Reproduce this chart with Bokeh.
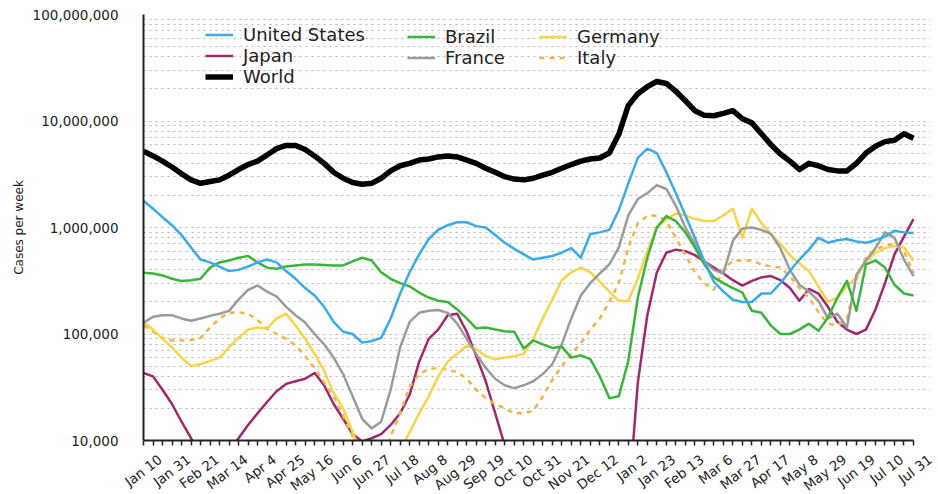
from bokeh.plotting import figure
from bokeh.models import (Range1d, FixedTicker, NumeralTickFormatter, Legend, LegendItem,
                          LinearAxis)
from bokeh.embed import file_html
from bokeh.resources import INLINE

# ---- data (weekly cases, weeks starting 2021-01-10) ----
week_index = list(range(82))
tick_labels = ["Jan 10", "Jan 31", "Feb 21", "Mar 14", "Apr 4", "Apr 25", "May 16",
               "Jun 6", "Jun 27", "Jul 18", "Aug 8", "Aug 29", "Sep 19", "Oct 10",
               "Oct 31", "Nov 21", "Dec 12", "Jan 2", "Jan 23", "Feb 13", "Mar 6",
               "Mar 27", "Apr 17", "May 8", "May 29", "Jun 19", "Jul 10", "Jul 31"]
tick_positions = week_index[::3]

world_m = [5.2, 4.7, 4.2, 3.7, 3.2, 2.8, 2.6, 2.7, 2.8, 3.1,
           3.5, 3.9, 4.2, 4.8, 5.5, 5.9, 5.9, 5.4, 4.7, 4.0,
           3.3, 2.9, 2.65, 2.55, 2.6, 2.9, 3.4, 3.8, 4.0, 4.3,
           4.4, 4.6, 4.7, 4.6, 4.3, 4.0, 3.6, 3.3, 3.0, 2.85,
           2.8, 2.9, 3.1, 3.3, 3.6, 3.9, 4.2, 4.4, 4.5, 5.0,
           7.5, 14, 18, 21, 23.5, 22.5, 19, 15.5, 12.5, 11.3,
           11.2, 11.8, 12.5, 10.5, 9.6, 7.6, 6.0, 4.9, 4.2, 3.5,
           4.0, 3.8, 3.5, 3.4, 3.4, 4.0, 5.0, 5.8, 6.4, 6.6,
           7.6, 6.9]
us_k = [1780, 1500, 1250, 1050, 850, 650, 500, 470, 430, 390,
        400, 430, 470, 500, 470, 390, 330, 270, 230, 180,
        130, 105, 100, 83, 86, 92, 140, 240, 380, 560,
        780, 950, 1050, 1120, 1120, 1030, 1000, 850, 720, 630,
        560, 500, 520, 540, 580, 640, 520, 870, 900, 950,
        1450, 2600, 4500, 5500, 5000, 3300, 2100, 1300, 800, 480,
        310, 250, 210, 200, 200, 240, 240, 300, 390, 500,
        620, 800, 720, 760, 780, 740, 720, 760, 820, 930,
        900, 890]
japan_k = [43, 40, 30, 22, 15, 10.5, 7, 6, 6.5, 8,
           10.5, 14, 18, 23, 29, 34, 36, 38, 43, 33,
           22, 16, 11.5, 9.8, 10.5, 11.5, 14, 18, 27, 55,
           90, 110, 150, 155, 105, 62, 36, 18, 9, 6,
           4, 3, 2.2, 1.6, 1.2, 1.0, 0.9, 0.9, 1.0, 1.2,
           1.5, 2.5, 35, 150, 380, 580, 620, 600, 550, 480,
           420, 370, 320, 285, 315, 340, 350, 320, 270, 205,
           265, 240, 180, 130, 110, 100, 110, 170, 300, 560,
           820, 1200]
brazil_k = [375, 370, 355, 330, 315, 320, 330, 420, 470, 490,
            520, 540, 470, 420, 410, 430, 440, 450, 450, 445,
            440, 440, 480, 520, 490, 380, 330, 300, 280, 245,
            220, 205, 200, 170, 140, 113, 115, 110, 106, 105,
            73, 87, 80, 74, 76, 60, 63, 58, 40, 25,
            26, 56, 220, 520, 1000, 1280, 1150, 900, 650, 450,
            340, 300, 270, 245, 165, 158, 120, 100, 100, 110,
            125, 107, 142, 220, 315, 165, 450, 490, 420, 290,
            240, 230]
france_k = [128, 145, 150, 150, 140, 133, 140, 148, 155, 165,
            210, 260, 285, 250, 225, 180, 150, 128, 100, 80,
            60, 42, 26, 16, 13, 15, 30, 75, 130, 158,
            165, 168, 158, 125, 90, 65, 48, 38, 33, 31,
            33, 36, 42, 52, 80, 140, 230, 300, 370, 450,
            650, 1300, 1850, 2100, 2500, 2300, 1600, 1000, 700, 480,
            400, 370, 750, 980, 1000, 950, 870, 640, 400, 290,
            250, 205, 140, 155, 115, 360, 490, 640, 900, 800,
            500, 350]
germany_k = [128, 110, 90, 75, 60, 50, 52, 56, 60, 75,
             92, 110, 115, 112, 140, 155, 120, 90, 65, 45,
             28, 20, 12, 7, 5, 5, 6, 8, 12, 18,
             26, 40, 55, 65, 78, 72, 62, 58, 60, 62,
             65, 90, 140, 210, 320, 380, 420, 380, 310, 250,
             205, 205, 330, 600, 1000, 1200, 1350, 1300, 1200, 1150,
             1150, 1300, 1500, 800, 1500, 1100, 870, 700, 550, 460,
             390, 280, 200, 220, 280, 340, 480, 580, 640, 670,
             650, 490]
italy_k = [120, 105, 92, 87, 87, 88, 92, 115, 140, 158,
           160, 155, 135, 112, 100, 90, 78, 62, 48, 35,
           26, 17, 11, 7, 6, 6, 11, 18, 32, 42,
           47, 48, 46, 44, 38, 30, 25, 22, 20, 18,
           18, 19, 26, 37, 50, 65, 82, 110, 140, 200,
           300, 650, 1100, 1280, 1300, 1150, 800, 550, 380, 300,
           260, 400, 490, 490, 490, 450, 430, 420, 350, 270,
           220, 160, 125, 120, 140, 330, 520, 620, 680, 700,
           600, 370]

major_y = [1e4, 1e5, 1e6, 1e7, 1e8]
minor_y = [m * d for d in [1e4, 1e5, 1e6, 1e7] for m in range(2, 10)]

FONT = "DejaVu Sans"
TXT = "#222222"

# geometry: 81 week-steps span 770 px; the frame is widened by SHIFT weeks on the
# right so the (right-anchored) rotated date labels can be moved to sit centred
# under their ticks through a shifted label axis.
X0, X1 = week_index[0], week_index[-1]
DATA_W = 770
SHIFT = 1.75
px_per_week = DATA_W / (X1 - X0)
FRAME_W = int(round(DATA_W + SHIFT * px_per_week))

p = figure(output_backend="svg", toolbar_location=None,
           y_axis_type="log", frame_width=FRAME_W, frame_height=426,
           min_border_left=143, min_border_top=14, min_border_right=938 - 143 - FRAME_W,
           min_border_bottom=54,
           x_range=Range1d(X0, X0 + FRAME_W / px_per_week), y_range=Range1d(1e4, 1e8))
p.outline_line_color = None
p.background_fill_color = "white"

# grid
p.xgrid.visible = False
p.ygrid.ticker = FixedTicker(ticks=major_y, minor_ticks=minor_y)
p.ygrid.grid_line_color = "#b5b5b5"
p.ygrid.grid_line_dash = "2 4"
p.ygrid.grid_line_width = 1.2
p.ygrid.minor_grid_line_color = "#b5b5b5"
p.ygrid.minor_grid_line_dash = "2 4"
p.ygrid.minor_grid_line_width = 1.2

# y axis
p.yaxis.ticker = FixedTicker(ticks=major_y, minor_ticks=[])
p.yaxis.formatter = NumeralTickFormatter(format="0,0")
p.yaxis.major_tick_line_color = None
p.yaxis.minor_tick_line_color = None
p.yaxis.major_tick_out = 0
p.yaxis.major_tick_in = 0
p.yaxis.axis_line_width = 2
p.yaxis.axis_line_color = TXT
p.yaxis.major_label_text_font = FONT
p.yaxis.major_label_text_font_size = "13.5px"
p.yaxis.major_label_text_color = TXT
p.yaxis.major_label_standoff = 25
p.yaxis.axis_label = "Cases per week"
p.yaxis.axis_label_text_font = FONT
p.yaxis.axis_label_text_font_size = "12px"
p.yaxis.axis_label_text_font_style = "normal"
p.yaxis.axis_label_text_color = TXT
p.yaxis.axis_label_standoff = 4

# x axis: weekly tick marks, line limited to the data span
p.xaxis.ticker = FixedTicker(ticks=[], minor_ticks=week_index)
p.xaxis.bounds = (X0, X1)
p.xaxis.axis_line_width = 2
p.xaxis.axis_line_color = TXT
p.xaxis.minor_tick_in = 0
p.xaxis.minor_tick_out = 5
p.xaxis.minor_tick_line_color = TXT
p.xaxis.minor_tick_line_width = 1.5

# label axis (shifted range so labels end right of their tick and centre on it)
p.extra_x_ranges = {"labels": Range1d(X0 - SHIFT, X0 - SHIFT + FRAME_W / px_per_week)}
lab_axis = LinearAxis(x_range_name="labels",
                      ticker=FixedTicker(ticks=tick_positions, minor_ticks=[]),
                      major_label_overrides={t: l for t, l in zip(tick_positions, tick_labels)},
                      major_label_orientation=0.65,
                      major_label_standoff=6,
                      major_label_text_font=FONT,
                      major_label_text_font_size="13.5px",
                      major_label_text_color=TXT,
                      axis_line_color=None,
                      major_tick_line_color=None,
                      minor_tick_line_color=None)
p.add_layout(lab_axis, "below")

k = 1000
series = [
    ("Japan", [v * k for v in japan_k], "#a0286e", 2.5, "solid"),
    ("Italy", [v * k for v in italy_k], "#f2b347", 2.5, "5 5"),
    ("Germany", [v * k for v in germany_k], "#f7d54a", 2.5, "solid"),
    ("France", [v * k for v in france_k], "#9b9b9b", 2.5, "solid"),
    ("Brazil", [v * k for v in brazil_k], "#3cb43c", 2.5, "solid"),
    ("United States", [v * k for v in us_k], "#3aabe8", 2.5, "solid"),
    ("World", [v * 1e6 for v in world_m], "#000000", 5.5, "solid"),
]
renderers = {}
for name, ys, color, w, dash in series:
    renderers[name] = p.line(week_index, ys, line_color=color, line_width=w,
                             line_dash=dash, line_join="round")


def make_legend(names, loc):
    return Legend(items=[LegendItem(label=n, renderers=[renderers[n]]) for n in names],
                  location=loc, orientation="vertical",
                  background_fill_alpha=0, border_line_color=None,
                  padding=0, margin=0, spacing=0,
                  glyph_width=28, glyph_height=19, label_height=19,
                  label_standoff=10,
                  label_text_font=FONT, label_text_font_size="18px",
                  label_text_color=TXT)


p.add_layout(make_legend(["United States", "Japan", "World"], (62, 353)))
p.add_layout(make_legend(["Brazil", "France"], (264, 372)))
p.add_layout(make_legend(["Germany", "Italy"], (396, 372)))

open("out.html", "w").write(file_html(p, INLINE))
